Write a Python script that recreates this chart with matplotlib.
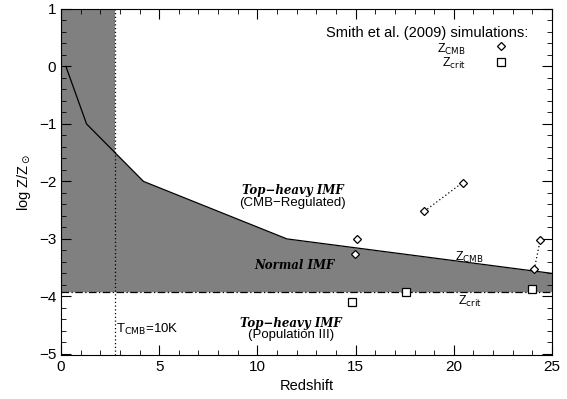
import matplotlib
matplotlib.use("Agg")
import matplotlib.pyplot as plt
from matplotlib.ticker import MultipleLocator

# Z_CMB boundary (redshift, log Z/Zsun)
zcmb_z = [0.25, 1.3, 2.75, 4.2, 11.5, 25.0]
zcmb_logz = [0.0, -1.0, -1.5, -2.0, -3.0, -3.6]
zcrit = -3.92
z_tcmb10 = 2.75

# Smith et al. (2009) simulations
diam_z = [15.05, 14.95, 18.5, 20.45, 24.1, 24.4]
diam_logz = [-3.0, -3.27, -2.52, -2.02, -3.53, -3.02]
diam_pairs = [(2, 3), (4, 5)]
sq_z = [14.8, 17.55, 24.0]
sq_logz = [-4.1, -3.93, -3.87]

plt.rcParams["font.family"] = ["Liberation Sans", "DejaVu Sans"]
fig = plt.figure(figsize=(5.67, 3.99), dpi=100)
ax = fig.add_axes([0.1076, 0.1103, 0.8659, 0.8672])

gray = "#808080"
# shaded regions
ax.fill_between([0, z_tcmb10], zcrit, 1.0, color=gray, lw=0)
ax.fill_between(zcmb_z, zcrit, zcmb_logz, color=gray, lw=0)
ax.plot(zcmb_z, zcmb_logz, color="k", lw=0.9)
ax.axhline(zcrit, color="k", lw=0.9, ls=(0, (6, 2, 1, 2)))
ax.axvline(z_tcmb10, color="k", lw=0.9, ls=(0, (1, 2)))

for i, j in diam_pairs:
    ax.plot([diam_z[i], diam_z[j]], [diam_logz[i], diam_logz[j]],
            color="k", lw=0.9, ls=(0, (1, 2)))
dkw = dict(marker="D", ls="none", ms=4.5, mfc="white", mec="k", mew=0.9)
skw = dict(marker="s", ls="none", ms=5.5, mfc="white", mec="k", mew=0.9)
ax.plot(diam_z, diam_logz, **dkw)
ax.plot(sq_z, sq_logz, **skw)

# legend-like annotation
ax.text(23.8, 0.58, "Smith et al. (2009) simulations:", ha="right", va="center", fontsize=10.5)
ax.text(20.6, 0.3, r"Z$_{\rm CMB}$", ha="right", va="center", fontsize=9)
ax.text(20.6, 0.05, r"Z$_{\rm crit}$", ha="right", va="center", fontsize=9)
ax.plot([22.4], [0.36], **dkw)
ax.plot([22.4], [0.07], **skw)

serif = dict(family="DejaVu Serif", style="italic", weight="bold", fontsize=8.5,
             ha="center", va="center")
ax.text(11.8, -2.16, "Top\u2212heavy IMF", **serif)
ax.text(11.8, -2.38, "(CMB\u2212Regulated)", ha="center", va="center", fontsize=9.5)
ax.text(11.9, -3.46, "Normal IMF", **serif)
ax.text(11.7, -4.47, "Top\u2212heavy IMF", **serif)
ax.text(11.7, -4.67, "(Population III)", ha="center", va="center", fontsize=9.5)
ax.text(20.8, -3.33, r"Z$_{\rm CMB}$", ha="center", va="center", fontsize=9)
ax.text(20.8, -4.08, r"Z$_{\rm crit}$", ha="center", va="center", fontsize=9)
ax.text(2.8, -4.57, r"T$_{\rm CMB}$=10K", ha="left", va="center", fontsize=9.5)

ax.set_xlim(0, 25)
ax.set_ylim(-5.02, 1.0)
ax.set_xlabel("Redshift", fontsize=10.5)
ax.set_ylabel(r"log Z/Z$_\odot$", fontsize=10.5)
ax.xaxis.set_major_locator(MultipleLocator(5))
ax.xaxis.set_minor_locator(MultipleLocator(1))
ax.yaxis.set_major_locator(MultipleLocator(1))
ax.yaxis.set_minor_locator(MultipleLocator(0.2))
ax.tick_params(which="both", direction="in", top=True, right=True, labelsize=11)
ax.tick_params(which="major", length=7)
ax.tick_params(which="minor", length=3.5)

fig.savefig("out.png", dpi=100)
